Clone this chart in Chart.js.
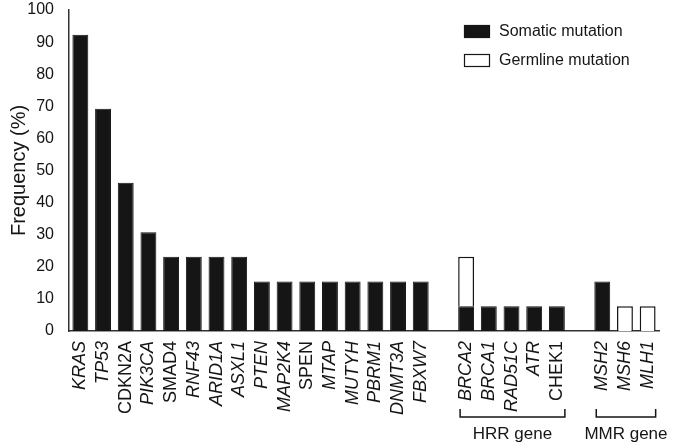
<!DOCTYPE html>
<html>
<head>
<meta charset="utf-8">
<script src="https://cdn.jsdelivr.net/npm/chart.js@4.4.1/dist/chart.umd.min.js"></script>
<style>
  html, body { margin: 0; padding: 0; background: #fff; }
  #wrap { width: 673px; height: 446px; }
</style>
</head>
<body>
<div id="wrap"><canvas id="freqChart" width="673" height="446"></canvas></div>
<script>
// genes, "" = spacer between groups
const genes = [
  "KRAS", "TP53", "CDKN2A", "PIK3CA", "SMAD4", "RNF43", "ARID1A", "ASXL1",
  "PTEN", "MAP2K4", "SPEN", "MTAP", "MUTYH", "PBRM1", "DNMT3A", "FBXW7",
  "",
  "BRCA2", "BRCA1", "RAD51C", "ATR", "CHEK1",
  "",
  "MSH2", "MSH6", "MLH1"
];
const somatic = [
  92.3, 69.2, 46.2, 30.8, 23.1, 23.1, 23.1, 23.1,
  15.4, 15.4, 15.4, 15.4, 15.4, 15.4, 15.4, 15.4,
  null,
  7.7, 7.7, 7.7, 7.7, 7.7,
  null,
  15.4, null, null
];
const germline = [
  null, null, null, null, null, null, null, null,
  null, null, null, null, null, null, null, null,
  null,
  15.4, null, null, null, null,
  null,
  null, 7.7, 7.7
];
const yTicks = [0, 10, 20, 30, 40, 50, 60, 70, 80, 90, 100];
const uprightGenes = ["CDKN2A", "SMAD4", "SPEN", "CHEK1"];
const groups = [
  { name: "HRR gene", from: "BRCA2", to: "CHEK1" },
  { name: "MMR gene", from: "MSH2", to: "MLH1" }
];

const FONT = "'Liberation Sans', Arial, sans-serif";
const INK = "#151515";

// brackets under the gene labels + legend in the top right
const extrasPlugin = {
  id: "extras",
  afterDraw(chart) {
    const ctx = chart.ctx;
    const x = chart.scales.x;
    ctx.save();
    ctx.strokeStyle = INK;
    ctx.fillStyle = INK;
    ctx.lineWidth = 1.5;
    groups.forEach((g) => {
      const left = x.getPixelForValue(genes.indexOf(g.from)) - 6;
      const right = x.getPixelForValue(genes.indexOf(g.to)) + 8;
      ctx.beginPath();
      ctx.moveTo(left, 409);
      ctx.lineTo(left, 417);
      ctx.lineTo(right, 417);
      ctx.lineTo(right, 409);
      ctx.stroke();
      ctx.font = "17px " + FONT;
      ctx.textAlign = "center";
      ctx.textBaseline = "middle";
      ctx.fillText(g.name, (left + right) / 2, 434);
    });

    // legend
    const items = chart.data.datasets;
    items.forEach((ds, i) => {
      const y = 25 + i * 29;
      ctx.fillStyle = ds.backgroundColor;
      ctx.fillRect(464, y, 26, 13);
      ctx.strokeStyle = INK;
      ctx.lineWidth = 1.2;
      ctx.strokeRect(464.5, y + 0.5, 25, 12);
      ctx.fillStyle = INK;
      ctx.font = "16px " + FONT;
      ctx.textAlign = "left";
      ctx.textBaseline = "middle";
      ctx.fillText(ds.label, 499, y + 7);
    });
    ctx.restore();
  }
};

new Chart(document.getElementById("freqChart"), {
  type: "bar",
  data: {
    labels: genes,
    datasets: [
      {
        label: "Somatic mutation",
        data: somatic,
        backgroundColor: INK,
        borderColor: INK,
        borderWidth: 1,
        barPercentage: 0.7,
        categoryPercentage: 1
      },
      {
        label: "Germline mutation",
        data: germline,
        backgroundColor: "#ffffff",
        borderColor: INK,
        borderWidth: 1.5,
        barPercentage: 0.7,
        categoryPercentage: 1
      }
    ]
  },
  options: {
    responsive: false,
    animation: false,
    layout: { padding: { top: 10, right: 14, left: 0, bottom: 0 } },
    plugins: {
      legend: { display: false },
      tooltip: { enabled: false }
    },
    scales: {
      x: {
        stacked: true,
        grid: { display: false, drawTicks: false },
        border: { color: "#333", width: 1.5 },
        ticks: {
          autoSkip: false,
          minRotation: 90,
          maxRotation: 90,
          padding: 10,
          color: INK,
          font: (c) => ({
            family: FONT,
            size: 18,
            style: uprightGenes.includes(genes[c.index]) ? "normal" : "italic"
          })
        },
        afterFit(scale) {
          scale.height = 115;
          scale.paddingLeft = 0;
          scale.paddingRight = 0;
        }
      },
      y: {
        stacked: true,
        min: 0,
        max: 100,
        afterBuildTicks(scale) {
          scale.ticks = yTicks.map((v) => ({ value: v }));
        },
        grid: { display: false, drawTicks: false },
        border: { color: "#333", width: 1.5 },
        ticks: {
          padding: 15,
          color: INK,
          font: { family: FONT, size: 16 }
        },
        title: {
          display: true,
          text: "Frequency (%)",
          color: INK,
          font: { family: FONT, size: 20 },
          padding: { top: 7, bottom: 0 }
        },
        afterFit(scale) {
          scale.width = 69;
          scale.paddingTop = 0;
        }
      }
    }
  },
  plugins: [extrasPlugin]
});
</script>
</body>
</html>
